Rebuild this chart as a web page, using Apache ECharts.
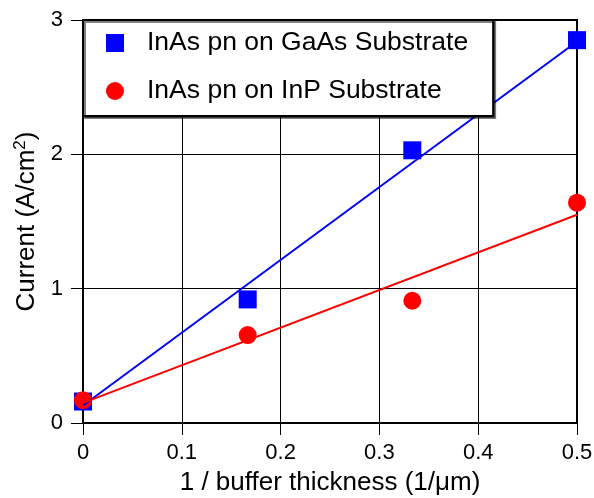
<!DOCTYPE html>
<html>
<head>
<meta charset="utf-8">
<script src="https://cdn.jsdelivr.net/npm/echarts@6/dist/echarts.min.js"></script>
<style>
html,body{margin:0;padding:0;background:#fff;}
#c{width:594px;height:498px;}
</style>
</head>
<body>
<div id="c"></div>
<script>
// Data
var xTicks = [0, 0.1, 0.2, 0.3, 0.4, 0.5];
var yTicks = [0, 1, 2, 3];
var gaasX = [0, 0.1667, 0.3333, 0.5];
var gaasY = [0.16, 0.92, 2.03, 2.85];
var inpX = [0, 0.1667, 0.3333, 0.5];
var inpY = [0.17, 0.655, 0.91, 1.64];
// fitted lines (endpoints)
var gaasFitX = [0, 0.5];
var gaasFitY = [0.13, 2.84];
var inpFitX = [0, 0.5];
var inpFitY = [0.15, 1.55];
var seriesNames = ['InAs pn on GaAs Substrate', 'InAs pn on InP Substrate'];

function pairs(xs, ys) { return xs.map(function (x, i) { return [x, ys[i]]; }); }

var FONT = '"Liberation Sans", Arial, Helvetica, sans-serif';
var chart = echarts.init(document.getElementById('c'), null, {renderer: 'canvas'});
chart.setOption({
  animation: false,
  backgroundColor: '#fff',
  grid: {left: 83, right: 17, top: 20, bottom: 75, outerBoundsMode: 'none', containLabel: false,
    show: true, borderColor: '#000', borderWidth: 2, backgroundColor: 'transparent'},
  legend: {
    data: [
      {name: seriesNames[0], icon: 'rect'},
      {name: seriesNames[1], icon: 'circle'}
    ],
    orient: 'vertical',
    left: 83, top: 20,
    itemWidth: 18, itemHeight: 18, itemGap: 18,
    padding: [8, 25, 10, 23],
    backgroundColor: '#fff',
    borderColor: '#000', borderWidth: 2,
    shadowColor: 'rgba(0,0,0,0.5)', shadowOffsetX: 2, shadowOffsetY: 2, shadowBlur: 0,
    selectedMode: false,
    textStyle: {fontFamily: FONT, fontSize: 26.5, color: '#000', lineHeight: 30, padding: [0, 0, 0, 18]}
  },
  xAxis: {
    type: 'value', min: 0, max: 0.5, interval: 0.1,
    name: '1 / buffer thickness (1/μm)', nameLocation: 'middle', nameGap: 47,
    nameTextStyle: {fontFamily: FONT, fontSize: 26, color: '#000'},
    axisLine: {lineStyle: {color: '#000', width: 2}},
    axisTick: {show: true, length: 12, lineStyle: {color: '#000', width: 1}},
    axisLabel: {fontFamily: FONT, fontSize: 22, color: '#000', margin: 19,
      formatter: function (v) { return String(xTicks[Math.round(v * 10)]); }},
    splitLine: {show: true, lineStyle: {color: '#000', width: 1}}
  },
  yAxis: {
    type: 'value', min: 0, max: 3, interval: 1,
    name: '{a|Current (A/cm}{s|2}{a|)}', nameLocation: 'middle', nameGap: 34,
    nameTextStyle: {fontFamily: FONT, fontSize: 26, color: '#000',
      rich: {
        a: {fontFamily: FONT, fontSize: 26, color: '#000', lineHeight: 30},
        s: {fontFamily: FONT, fontSize: 17, color: '#000', lineHeight: 18, verticalAlign: 'top'}
      }},
    axisLine: {lineStyle: {color: '#000', width: 2}},
    axisTick: {show: true, length: 12, lineStyle: {color: '#000', width: 1}},
    axisLabel: {fontFamily: FONT, fontSize: 22, color: '#000', margin: 20,
      formatter: function (v) { return String(yTicks[Math.round(v)]); }},
    splitLine: {show: true, lineStyle: {color: '#000', width: 1}}
  },
  series: [
    {name: 'gaasFit', type: 'line', data: pairs(gaasFitX, gaasFitY), showSymbol: false, symbol: 'none',
      lineStyle: {color: '#0000ff', width: 2}, itemStyle: {color: '#0000ff'}, silent: true},
    {name: 'inpFit', type: 'line', data: pairs(inpFitX, inpFitY), showSymbol: false, symbol: 'none',
      lineStyle: {color: '#ff0000', width: 2}, itemStyle: {color: '#ff0000'}, silent: true},
    {name: seriesNames[0], type: 'scatter', data: pairs(gaasX, gaasY), symbol: 'rect', symbolSize: 18,
      itemStyle: {color: '#0000ff', opacity: 1}},
    {name: seriesNames[1], type: 'scatter', data: pairs(inpX, inpY), symbol: 'circle', symbolSize: 18,
      itemStyle: {color: '#ff0000', opacity: 1}}
  ]
});
</script>
</body>
</html>
